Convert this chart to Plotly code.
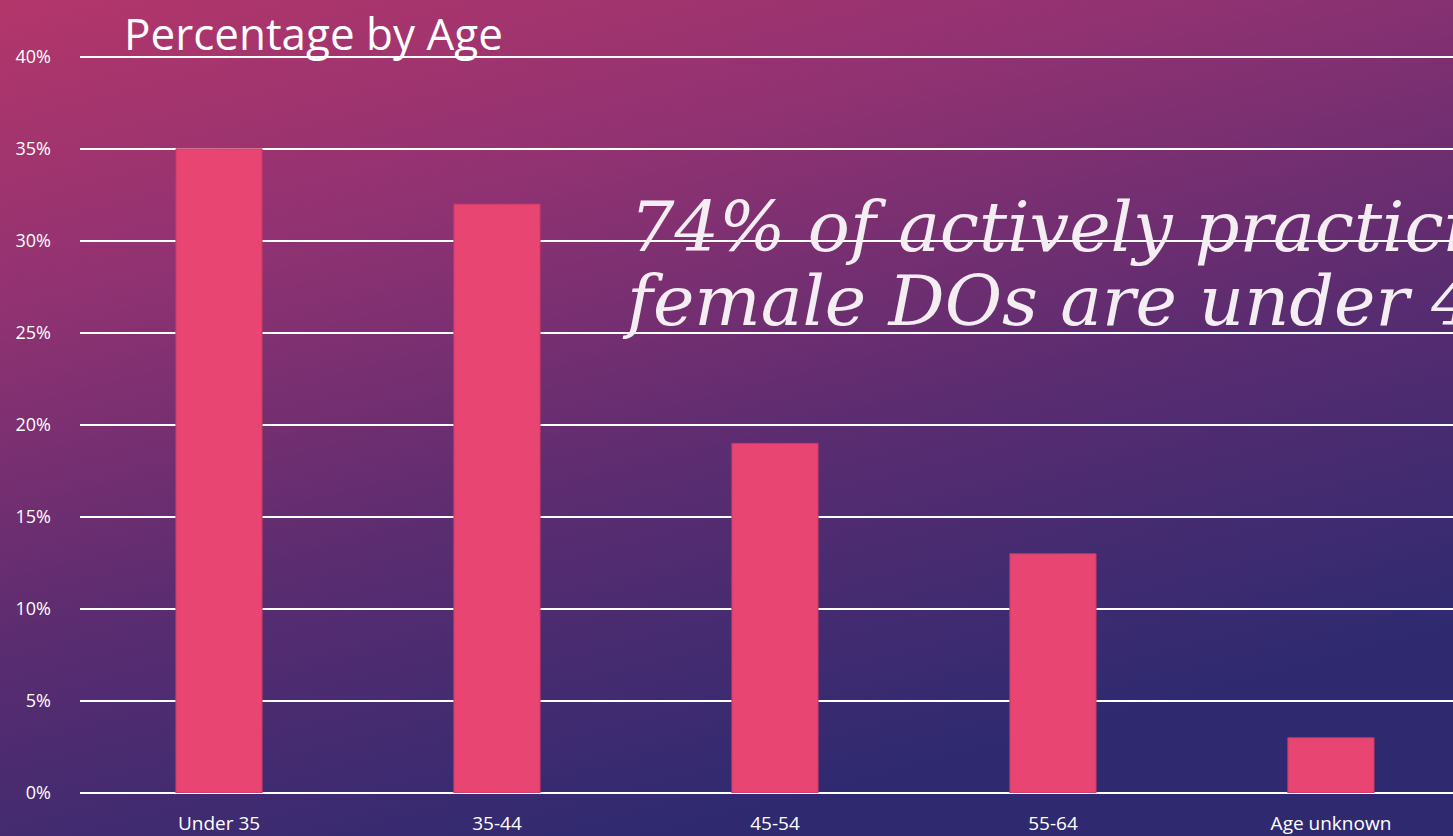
import base64
import plotly.graph_objects as go

# data
ages = ["Under 35", "35-44", "45-54", "55-64", "Age unknown"]
pct = [35, 32, 19, 13, 3]
tick_vals = [0, 5, 10, 15, 20, 25, 30, 35, 40]
tick_text = ["0%", "5%", "10%", "15%", "20%", "25%", "30%", "35%", "40%"]

# slide-like gradient background as an inline svg
bg_svg = """<svg xmlns='http://www.w3.org/2000/svg' width='1453' height='836' preserveAspectRatio='none'>
<defs>
<linearGradient id='g' x1='0' y1='0' x2='0.45' y2='1'>
<stop offset='0' stop-color='#b3366a'/>
<stop offset='0.3' stop-color='#923272'/>
<stop offset='0.65' stop-color='#5a2c70'/>
<stop offset='1' stop-color='#2f2a70'/>
</linearGradient>
</defs>
<rect width='1453' height='836' fill='url(#g)'/>
</svg>"""
bg_uri = "data:image/svg+xml;base64," + base64.b64encode(bg_svg.encode()).decode()

W, H = 1453, 836
L, T, B = 80, 55, 43
pw, ph = W - L, H - T - B

fig = go.Figure()
fig.add_trace(go.Bar(
    x=ages, y=pct,
    marker=dict(color="#e84572", line=dict(color="#c23a66", width=1)),
    width=0.31,
))

fig.update_layout(
    width=W, height=H,
    margin=dict(l=L, r=0, t=T, b=B),
    paper_bgcolor="#6a2f72",
    plot_bgcolor="rgba(0,0,0,0)",
    showlegend=False,
    font=dict(family="Open Sans, sans-serif", color="white", size=16),
    images=[dict(source=bg_uri, xref="paper", yref="paper",
                 x=-L / pw, y=1 + T / ph,
                 sizex=W / pw, sizey=H / ph,
                 xanchor="left", yanchor="top", sizing="stretch", layer="below")],
    xaxis=dict(range=[-0.5, 4.439], showgrid=False, zeroline=False,
               ticks="", tickfont=dict(size=19), ticklabelstandoff=17),
    yaxis=dict(range=[0, 40.1], tickvals=tick_vals, ticktext=tick_text,
               showgrid=True, gridcolor="white", gridwidth=2,
               zeroline=True, zerolinecolor="white", zerolinewidth=2,
               tickfont=dict(size=18), ticklabelstandoff=28),
    annotations=[
        dict(text="Percentage by Age", xref="paper", yref="paper",
             x=(122 - L) / pw, y=1 + (T - 1) / ph, xanchor="left", yanchor="top",
             showarrow=False, font=dict(size=44)),
        dict(text="<i>74% of actively practicing</i>",
             xref="paper", yref="paper", x=(628 - L) / pw, y=1 - (184 - T) / ph,
             xanchor="left", yanchor="top", align="left", showarrow=False,
             font=dict(size=70, family="DejaVu Serif, serif", color="#f4eef2")),
        dict(text="<i>female DOs are under 45</i>",
             xref="paper", yref="paper", x=(620 - L) / pw, y=1 - (258 - T) / ph,
             xanchor="left", yanchor="top", align="left", showarrow=False,
             font=dict(size=70, family="DejaVu Serif, serif", color="#f4eef2")),
    ],
)

fig.write_html("out.html", config={"displayModeBar": False},
               post_script="document.body.style.margin='0';")
